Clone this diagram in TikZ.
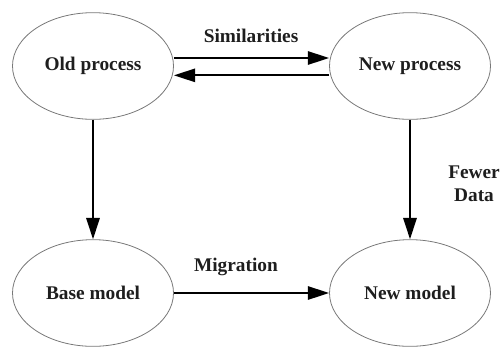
\documentclass[tikz,border=0pt]{standalone}
\usepackage{fontspec}
\setmainfont{Liberation Serif}
\usetikzlibrary{arrows.meta,shapes.geometric}
\tikzset{every picture/.style={line width=0.75pt}}
\tikzset{
procnode/.style={draw={rgb,255:red,120;green,120;blue,120}, line width=0.6pt, ellipse, minimum width=120.75pt, minimum height=80pt, inner sep=0pt, font=\fontsize{14.5}{17}\selectfont\bfseries, text={rgb,255:red,30;green,30;blue,30}},
flowarrow/.style={line width=1.5pt, -{Triangle[length=16pt,width=10pt]}},
labeltext/.style={inner sep=0.75pt, font=\fontsize{14.5}{17}\selectfont\bfseries, text={rgb,255:red,30;green,30;blue,30}}
}

\begin{document}
\begin{tikzpicture}[x=0.75pt,y=0.75pt,yscale=-1]
\useasboundingbox (0,0) rectangle (502,347);

%Shape: Ellipse
\node [procnode] (oldproc) at (93,66) {Old process};
%Shape: Ellipse
\node [procnode] (newproc) at (410,66) {New process};
%Shape: Ellipse
\node [procnode] (basemod) at (93,293) {Base model};
%Shape: Ellipse
\node [procnode] (newmod) at (410,293) {New model};

%Straight Lines
\draw [flowarrow] ([yshift=-6pt]oldproc.east) -- ([yshift=-6pt]newproc.west);
%Straight Lines
\draw [flowarrow] ([yshift=7pt]newproc.west) -- ([yshift=7pt]oldproc.east);
%Straight Lines
\draw [flowarrow] (oldproc) -- (basemod);
%Straight Lines
\draw [flowarrow] (newproc) -- (newmod);
%Straight Lines
\draw [flowarrow] (basemod) -- (newmod);

% Text Node
\node [labeltext] (simlabel) at (251,36) {Similarities};
% Text Node
\node [labeltext] (miglabel) at (236,267) {Migration};
% Text Node
\node [labeltext, align=center] (fewlabel) at (474,184) {Fewer\\[0pt]Data};

\end{tikzpicture}
\end{document}
